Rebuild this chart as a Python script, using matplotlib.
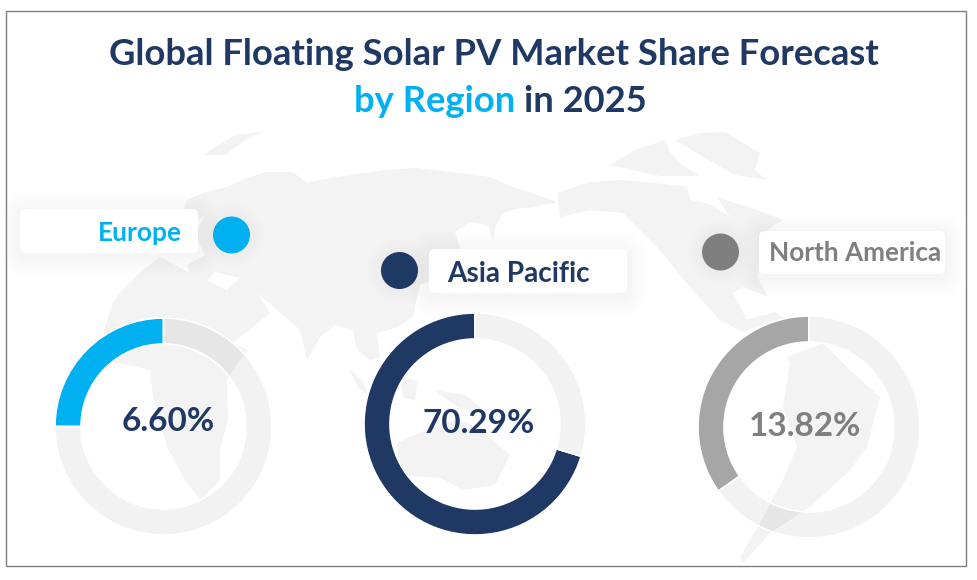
import matplotlib.pyplot as plt
from matplotlib.patches import Circle, FancyBboxPatch, Polygon, Rectangle

plt.rcParams['font.family'] = ['Lato', 'DejaVu Sans']

W, H = 977, 580
NAVY = '#1f3864'
BLUE = '#00b0f0'
GREY = '#7f7f7f'

# the data
regions = ['Europe', 'Asia Pacific', 'North America']
labels = ['6.60%', '70.29%', '13.82%']
# the arcs are not drawn to the printed numbers, read off the rings
arc_shares = [25.0, 70.29, 34.8]
arc_colors = [BLUE, NAVY, '#a6a6a6']
text_colors = [BLUE, NAVY, GREY]
value_colors = [NAVY, NAVY, GREY]

# ring layout in pixels: centre x, centre y, radius, thickness
rings = [(163.5, 426.5, 108.5, 26), (475, 424, 111, 26), (809, 427, 111, 26)]
dots = [(231.5, 235), (399.5, 270.5), (720.5, 252)]
boxes = [(20, 209, 178, 44), (429, 249, 198, 44), (759, 231, 186, 43)]
name_pos = [(182, 241, 'right'), (447, 282, 'left'), (941, 261, 'right')]
name_size = [19, 20.2, 18.8]
value_pos = [(168, 431), (479, 433), (805, 436)]

# background world map, rough outlines in pixels
eurasia = [(187, 200), (205, 192), (227, 187), (247, 178), (267, 172), (293, 172), (307, 183),
           (330, 178), (350, 175), (385, 170), (417, 168), (450, 172), (490, 177), (510, 186),
           (523, 190), (557, 202), (533, 207), (515, 209), (503, 213), (495, 228), (493, 240),
           (488, 225), (470, 222), (455, 232), (462, 255), (445, 275), (420, 285), (417, 297),
           (413, 317), (395, 328), (377, 333), (380, 357), (370, 360), (357, 350), (353, 330),
           (335, 325), (320, 337), (313, 350), (307, 360), (300, 330), (277, 310), (257, 293),
           (270, 313), (233, 343), (227, 290), (240, 278), (215, 272), (205, 283), (190, 273),
           (187, 265), (205, 255), (195, 235), (205, 215), (190, 225), (183, 212)]
africa = [(160, 257), (143, 270), (122, 290), (113, 303), (103, 333), (113, 363), (132, 366),
          (150, 370), (153, 397), (167, 447), (183, 477), (200, 500), (220, 480), (220, 450),
          (228, 420), (227, 380), (247, 350), (233, 343), (227, 290), (190, 273)]
greenland = [(203, 155), (235, 135), (263, 132), (245, 140), (225, 155)]
north_am = [(557, 193), (590, 182), (623, 180), (655, 183), (690, 187), (710, 195), (757, 210),
            (783, 220), (767, 230), (757, 277), (768, 297), (743, 287), (733, 293), (747, 320),
            (775, 312), (785, 318), (760, 325), (743, 332), (720, 320), (690, 287), (657, 247),
            (623, 213), (590, 210), (560, 217)]
hudson = [(687, 187), (710, 187), (730, 217), (707, 203), (690, 200)]
arctic_is = [(610, 165), (635, 150), (665, 140), (670, 152), (682, 165), (700, 176), (660, 176)]
baffin = [(675, 140), (700, 133), (725, 132), (760, 153), (755, 170), (767, 180), (735, 175),
          (700, 155)]
south_am = [(787, 357), (823, 343), (850, 370), (880, 397), (867, 447), (850, 470), (810, 507),
            (790, 520), (770, 533), (743, 563), (740, 557), (760, 523), (783, 480), (797, 447),
            (783, 407), (790, 363)]
australia = [(397, 443), (433, 427), (455, 420), (475, 425), (510, 455), (495, 485), (463, 490),
             (440, 478), (400, 475)]
new_guinea = [(433, 390), (465, 395), (490, 415), (460, 408)]
sumatra = [(350, 370), (362, 380), (370, 397), (358, 388)]
borneo = [(400, 378), (418, 380), (415, 400), (403, 398)]
map_land = [eurasia, africa, greenland, north_am, arctic_is, baffin, south_am, australia,
            new_guinea, sumatra, borneo]
map_holes = [hudson]

fig = plt.figure(figsize=(W / 100, H / 100), dpi=100, facecolor='white')
ax = fig.add_axes([0, 0, 1, 1])
ax.set_xlim(0, W)
ax.set_ylim(H, 0)
ax.axis('off')

for shape in map_land:
    ax.add_patch(Polygon(shape, closed=True, fc='#f3f3f3', ec='none', zorder=1))
for shape in map_holes:
    ax.add_patch(Polygon(shape, closed=True, fc='white', ec='none', zorder=1))

ax.add_patch(Rectangle((5.5, 10.5), 960, 555, fc='none', ec=GREY, lw=1, zorder=6))

# title
ax.text(494, 65, 'Global Floating Solar PV Market Share Forecast', color=NAVY, fontsize=26.2,
        fontweight='bold', ha='center', va='baseline', zorder=7)
ax.text(354, 112, 'by Region', color=BLUE, fontsize=26.2, fontweight='bold', va='baseline', zorder=7)
ax.text(524, 112, 'in 2025', color=NAVY, fontsize=26.2, fontweight='bold', va='baseline', zorder=7)

# labels with soft shadow
for i, (x, y, w, h) in enumerate(boxes):
    for grow in range(20, 0, -2):
        ax.add_patch(FancyBboxPatch((x - grow, y - grow + 3), w + 2 * grow, h + 2 * grow,
                                    boxstyle='round,pad=0,rounding_size=%d' % (6 + grow),
                                    fc='black', ec='none', alpha=0.005, zorder=2))
    ax.add_patch(FancyBboxPatch((x, y), w, h, boxstyle='round,pad=0,rounding_size=6',
                                fc='white', ec='none', zorder=3))
    px, py, align = name_pos[i]
    ax.text(px, py, regions[i], color=text_colors[i], fontsize=name_size[i], fontweight='bold',
            ha=align, va='baseline', zorder=4)

for (x, y), color in zip(dots, [BLUE, NAVY, GREY]):
    for grow in range(14, 0, -2):
        ax.add_patch(Circle((x, y), 18.5 + grow, fc='black', ec='none', alpha=0.005, zorder=2))
    ax.add_patch(Circle((x, y), 18.5, fc=color, ec='none', zorder=4))

# rings, each in its own axes
for i, (cx, cy, r, t) in enumerate(rings):
    size = 2.5 * r
    ring_ax = fig.add_axes([(cx - size / 2) / W, 1 - (cy + size / 2) / H, size / W, size / H])
    ring_ax.patch.set_alpha(0)
    ring_ax.pie([arc_shares[i], 100 - arc_shares[i]], colors=[arc_colors[i], (0, 0, 0, 0.05)],
                startangle=90, counterclock=True, radius=1,
                wedgeprops={'width': t / r, 'edgecolor': 'white', 'linewidth': 1.2})

for (x, y), text, color in zip(value_pos, labels, value_colors):
    ax.text(x, y, text, color=color, fontsize=24, fontweight='bold', ha='center', va='baseline',
            zorder=7)

fig.savefig('out.png', dpi=100)
